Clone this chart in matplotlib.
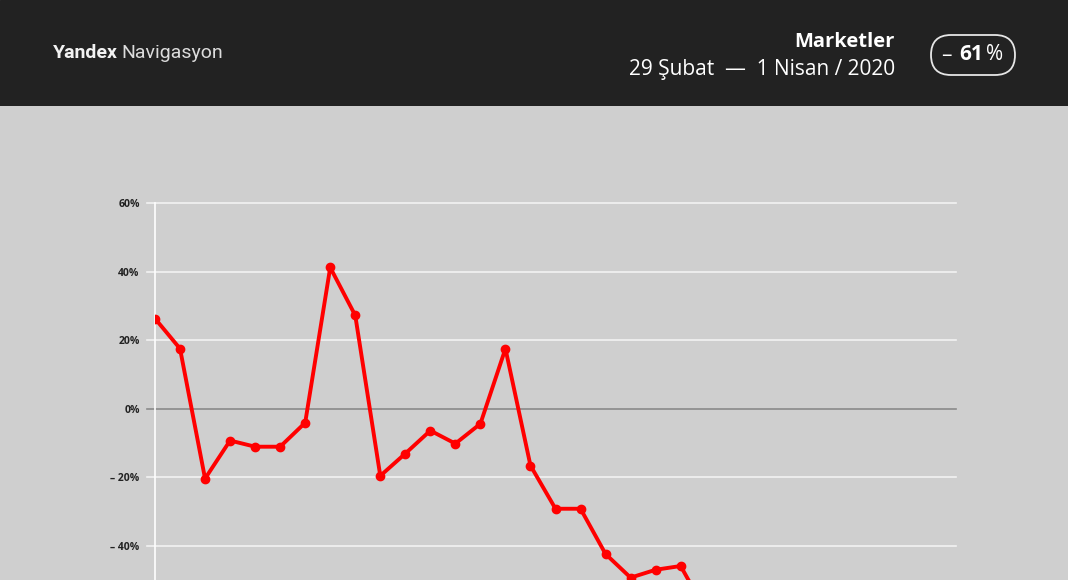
import matplotlib.pyplot as plt
from matplotlib.patches import FancyBboxPatch

# daily change vs. baseline, 29 Feb - 1 Apr 2020 (%)
days = list(range(33))
values = [26.3, 17.5, -20.4, -9.3, -11.1, -11.1, -4.1, 41.2, 27.2, -19.6,
          -13.1, -6.4, -10.2, -4.4, 17.5, -16.6, -29.2, -29.2, -42.4, -49.3,
          -47.0, -45.9, -59.0, -63.0, -66.0, -67.0, -69.0, -70.0, -69.0, -72.0,
          -71.0, -70.0, -68.0]
yticks = [-40, -20, 0, 20, 40, 60]
ytick_labels = ["– 40%", "– 20%", "0%", "20%", "40%", "60%"]

W, H = 1068, 580
BG = "#cfcfcf"
HEADER = "#222222"

fig = plt.figure(figsize=(W / 100, H / 100), dpi=100)
fig.patch.set_facecolor(BG)

# dark header band
hdr = fig.add_axes([0, 1 - 106 / H, 1, 106 / H])
hdr.set_xlim(0, W)
hdr.set_ylim(106, 0)
hdr.axis("off")
hdr.add_patch(plt.Rectangle((0, 0), W, 106, color=HEADER))

hdr.text(53, 53, "Yandex", color="#f2f2f2", fontsize=14, weight="bold",
         family="Roboto", va="center", ha="left")
hdr.text(121, 53, "Navigasyon", color="#dcdcdc", fontsize=14,
         family="Roboto", va="center", ha="left")

hdr.text(895, 42, "Marketler", color="white", fontsize=14.5, weight="bold",
         family="Open Sans", va="center", ha="right")
hdr.text(895, 69, "29 Şubat  —  1 Nisan / 2020", color="white", fontsize=15,
         family="Open Sans", va="center", ha="right")

pill = FancyBboxPatch((931, 35), 84, 40, boxstyle="round,pad=0,rounding_size=20",
                      fc="none", ec="#e6e6e6", lw=1.3)
hdr.add_patch(pill)
hdr.text(946, 56, "–", color="white", fontsize=15, family="Open Sans",
         va="center", ha="center")
hdr.text(971, 55, "61", color="white", fontsize=15, weight="bold",
         family="Open Sans", va="center", ha="center")
hdr.text(995, 55, "%", color="white", fontsize=15, family="Open Sans",
         va="center", ha="center")

# chart area
ax_left, ax_right = 155 / W, 956 / W
y_top_px = 203
ax = fig.add_axes([ax_left, 0, ax_right - ax_left, (H - y_top_px) / H])
ax.set_facecolor(BG)
ax.set_xlim(0, 32)
ax.set_ylim(-(580 - 408.3) / 68.7 * 20, 60)

for s in ["top", "right", "bottom"]:
    ax.spines[s].set_visible(False)
ax.spines["left"].set_color("white")
ax.spines["left"].set_linewidth(1.2)

for v in yticks:
    c = "#8a8a8a" if v == 0 else "#f2f2f2"
    ax.plot([-0.32, 32], [v, v], color=c, lw=1.2, clip_on=False, zorder=1)

ax.set_yticks(yticks)
ax.set_yticklabels(ytick_labels, fontsize=7.5, weight="bold", family="Open Sans",
                   color="#222222")
ax.tick_params(axis="y", length=0, pad=11)
ax.set_xticks([])

ax.plot(days, values, color="#ff0000", lw=2.8, marker="o", ms=6,
        zorder=3, solid_joinstyle="round")

fig.savefig("out.png", dpi=100, facecolor=BG)
